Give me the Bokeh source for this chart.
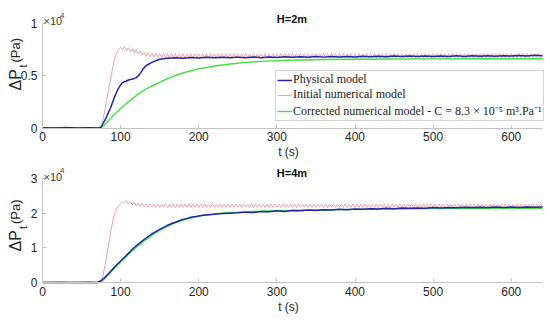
import math
from bokeh.plotting import figure
from bokeh.models import Range1d, Label, Legend, LegendItem, FixedTicker, CustomJSTickFormatter
from bokeh.layouts import column
from bokeh.embed import file_html
from bokeh.resources import INLINE

# ---------------- data (pressure values in units of 1e4 Pa) ----------------
x_ticks = [0, 100, 200, 300, 400, 500, 600]
y_ticks_top = [0, 0.5, 1]
y_ticks_bot = [0, 1, 2, 3]
t_max = 640
y_max_top = 1
y_max_bot = 3

titles = ["H=2m", "H=4m"]
legend_labels = ["Physical model", "Initial numerical model",
                 "Corrected numerical model - C = 8.3 \u00d7 10\u207b\u2075 m\u00b3.Pa\u207b\u00b9"]

# ---- H = 2 m ----
t_top_blue = [0, 15, 30, 45, 60, 72, 75, 78, 81, 84, 87, 90, 93, 96, 99, 102, 105, 108, 111, 114,
              117, 120, 123, 126, 129, 132, 135, 140, 145, 150, 155, 160, 170, 180, 190, 200, 210,
              220, 230, 240, 250, 260, 270, 280, 290, 300, 310, 320, 330, 340, 350, 360, 370, 380,
              390, 400, 410, 420, 430, 440, 450, 460, 470, 480, 490, 500, 510, 520, 530, 540, 550,
              560, 570, 580, 590, 600, 610, 620, 630, 640]
dp_top_blue = [0.003, 0.0, 0.004, 0.0, 0.003, 0.0, 0.01, 0.05, 0.09, 0.14, 0.19, 0.25, 0.31, 0.36,
               0.40, 0.43, 0.44, 0.45, 0.46, 0.465, 0.47, 0.48, 0.50, 0.53, 0.565, 0.59, 0.605, 0.625,
               0.64, 0.655, 0.66, 0.665, 0.67, 0.665, 0.672, 0.667, 0.673, 0.668, 0.674, 0.668, 0.675,
               0.67, 0.676, 0.67, 0.677, 0.672, 0.678, 0.673, 0.679, 0.674, 0.68, 0.675, 0.681, 0.676,
               0.682, 0.677, 0.683, 0.678, 0.684, 0.679, 0.685, 0.68, 0.685, 0.68, 0.686, 0.681, 0.686,
               0.682, 0.687, 0.682, 0.688, 0.683, 0.688, 0.684, 0.689, 0.685, 0.69, 0.685, 0.692, 0.688]

t_top_green = [0, 30, 60, 75, 80, 85, 90, 95, 100, 110, 120, 130, 140, 150, 160, 170, 180, 190, 200,
               220, 240, 260, 280, 300, 330, 360, 400, 450, 500, 550, 600, 640]
dp_top_green = [0.0, 0.002, 0.0, 0.0, 0.035, 0.075, 0.115, 0.15, 0.185, 0.25, 0.31, 0.36, 0.40, 0.435,
                0.47, 0.50, 0.525, 0.545, 0.563, 0.59, 0.61, 0.625, 0.635, 0.642, 0.648, 0.652, 0.655,
                0.657, 0.658, 0.659, 0.66, 0.66]

# initial numerical model: sampled every 2.5 s from 75 s (flat at 0 before)
pink_t0 = 75.0
pink_dt = 2.5
dp_top_pink = [
    0.0, 0.08, 0.18, 0.28, 0.38, 0.48, 0.58, 0.67, 0.72, 0.75,
    0.77, 0.745, 0.775, 0.735, 0.765, 0.725, 0.755, 0.715, 0.745, 0.705,
    0.735, 0.695, 0.725, 0.685, 0.72, 0.68, 0.715, 0.675, 0.712, 0.672,
    0.710, 0.669, 0.708, 0.668, 0.709, 0.667, 0.707, 0.669, 0.708, 0.668,
    0.709, 0.670, 0.707, 0.668, 0.708, 0.669, 0.706, 0.667, 0.708, 0.668,
    0.707, 0.669, 0.709, 0.668, 0.707, 0.667, 0.708, 0.669, 0.706, 0.668,
    0.708, 0.670, 0.707, 0.668, 0.709, 0.669, 0.707, 0.667, 0.708, 0.669,
    0.709, 0.668, 0.707, 0.669, 0.708, 0.667, 0.706, 0.668, 0.709, 0.670,
    0.707, 0.669, 0.708, 0.668, 0.707, 0.667, 0.709, 0.669, 0.708, 0.668,
    0.706, 0.669, 0.708, 0.670, 0.709, 0.668, 0.707, 0.667, 0.708, 0.669,
    0.707, 0.668, 0.709, 0.669, 0.707, 0.667, 0.708, 0.668, 0.706, 0.669,
    0.708, 0.670, 0.707, 0.668, 0.709, 0.669, 0.707, 0.668, 0.708, 0.667,
    0.709, 0.669, 0.707, 0.668, 0.708, 0.670, 0.706, 0.668, 0.708, 0.669,
    0.707, 0.667, 0.709, 0.668, 0.707, 0.669, 0.708, 0.668, 0.709, 0.670,
    0.707, 0.668, 0.708, 0.669, 0.706, 0.667, 0.708, 0.668, 0.707, 0.669,
    0.709, 0.668, 0.707, 0.670, 0.708, 0.669, 0.706, 0.667, 0.708, 0.668,
    0.707, 0.669, 0.709, 0.668, 0.707, 0.667, 0.708, 0.669, 0.706, 0.668,
    0.708, 0.670, 0.707, 0.668, 0.709, 0.669, 0.707, 0.667, 0.708, 0.669,
    0.709, 0.668, 0.707, 0.669, 0.708, 0.667, 0.706, 0.668, 0.709, 0.670,
    0.707, 0.669, 0.708, 0.668, 0.707, 0.667, 0.709, 0.669, 0.708, 0.668,
    0.707, 0.669, 0.708, 0.670, 0.709, 0.668, 0.707, 0.669, 0.708, 0.668,
    0.709, 0.669, 0.707, 0.668, 0.708, 0.670, 0.707, 0.668, 0.709, 0.669,
    0.708, 0.668, 0.707, 0.669, 0.708, 0.667, 0.708,
]

# ---- H = 4 m ----
t_bot_blue = [0, 20, 40, 60, 70, 75, 80, 85, 90, 95, 100, 105, 110, 115, 120, 125, 130, 135, 140,
              145, 150, 155, 160, 165, 170, 175, 180, 185, 190, 195, 200, 205, 210, 220, 230, 240,
              250, 260, 270, 280, 290, 300, 310, 320, 330, 340, 350, 360, 370, 380, 390, 400, 410,
              420, 430, 440, 450, 460, 470, 480, 490, 500, 510, 520, 530, 540, 550, 560, 570, 580,
              590, 600, 610, 620, 630, 640]
dp_bot_blue = [0.0, 0.01, 0.0, 0.01, 0.0, 0.05, 0.15, 0.27, 0.39, 0.51, 0.62, 0.73, 0.84, 0.96, 1.06,
               1.15, 1.24, 1.32, 1.40, 1.47, 1.53, 1.59, 1.65, 1.70, 1.74, 1.78, 1.82, 1.85, 1.88,
               1.90, 1.92, 1.94, 1.95, 1.97, 1.99, 2.00, 2.01, 2.03, 2.02, 2.05, 2.04, 2.07, 2.05,
               2.08, 2.07, 2.09, 2.08, 2.10, 2.09, 2.11, 2.10, 2.12, 2.11, 2.13, 2.12, 2.14, 2.13,
               2.15, 2.14, 2.15, 2.14, 2.16, 2.15, 2.165, 2.155, 2.17, 2.16, 2.17, 2.16, 2.175, 2.165,
               2.175, 2.165, 2.18, 2.17, 2.175]

t_bot_green = [0, 30, 60, 72, 75, 80, 85, 90, 95, 100, 105, 110, 115, 120, 130, 140, 150, 160, 170,
               180, 190, 200, 210, 220, 230, 240, 250, 270, 300, 350, 400, 450, 500, 550, 600, 640]
dp_bot_green = [0.0, 0.005, 0.0, 0.0, 0.03, 0.12, 0.24, 0.36, 0.48, 0.59, 0.70, 0.81, 0.92, 1.02,
                1.20, 1.36, 1.50, 1.62, 1.72, 1.80, 1.86, 1.91, 1.95, 1.98, 2.00, 2.02, 2.03, 2.05,
                2.07, 2.09, 2.11, 2.12, 2.13, 2.13, 2.14, 2.14]

dp_bot_pink = [
    0.00, 0.20, 0.50, 0.82, 1.15, 1.48, 1.78, 2.00, 2.12, 2.21,
    2.28, 2.33, 2.30, 2.36, 2.27, 2.33, 2.24, 2.31, 2.21, 2.29,
    2.19, 2.28, 2.18, 2.27, 2.17, 2.27, 2.17, 2.265, 2.165, 2.265,
    2.165, 2.26, 2.17, 2.265, 2.165, 2.26, 2.17, 2.265, 2.16, 2.26,
    2.165, 2.265, 2.17, 2.26, 2.165, 2.27, 2.165, 2.26, 2.17, 2.265,
    2.165, 2.26, 2.16, 2.265, 2.17, 2.26, 2.165, 2.265, 2.17, 2.26,
    2.165, 2.27, 2.165, 2.26, 2.17, 2.265, 2.165, 2.26, 2.16, 2.265,
    2.17, 2.26, 2.165, 2.265, 2.17, 2.26, 2.165, 2.27, 2.165, 2.26,
    2.17, 2.265, 2.165, 2.26, 2.16, 2.265, 2.17, 2.26, 2.165, 2.265,
    2.17, 2.26, 2.165, 2.27, 2.165, 2.26, 2.17, 2.265, 2.165, 2.26,
    2.16, 2.265, 2.17, 2.26, 2.165, 2.265, 2.17, 2.26, 2.165, 2.27,
    2.165, 2.26, 2.17, 2.265, 2.165, 2.26, 2.16, 2.265, 2.17, 2.26,
    2.165, 2.265, 2.17, 2.26, 2.165, 2.27, 2.165, 2.26, 2.17, 2.265,
    2.165, 2.26, 2.16, 2.265, 2.17, 2.26, 2.165, 2.265, 2.17, 2.26,
    2.165, 2.27, 2.165, 2.26, 2.17, 2.265, 2.165, 2.26, 2.16, 2.265,
    2.17, 2.26, 2.165, 2.265, 2.17, 2.26, 2.165, 2.27, 2.165, 2.26,
    2.17, 2.265, 2.165, 2.26, 2.16, 2.265, 2.17, 2.26, 2.165, 2.265,
    2.17, 2.26, 2.165, 2.27, 2.165, 2.26, 2.17, 2.265, 2.165, 2.26,
    2.16, 2.265, 2.17, 2.26, 2.165, 2.265, 2.17, 2.26, 2.165, 2.27,
    2.165, 2.26, 2.17, 2.265, 2.165, 2.26, 2.16, 2.265, 2.17, 2.26,
    2.165, 2.265, 2.17, 2.26, 2.165, 2.27, 2.165, 2.26, 2.17, 2.265,
    2.165, 2.26, 2.16, 2.265, 2.17, 2.26, 2.165, 2.265, 2.17, 2.26,
    2.165, 2.27, 2.165, 2.26, 2.17, 2.265, 2.165,
]

# ---------------- styling / layout (pixels) ----------------
BLUE = "#2323a8"
PINK = "#eea3ac"
GREEN = "#3ee23e"
AXIS = "#c4c4c4"
TXT = "#262626"
SANS = "Liberation Sans"
SERIF = "Liberation Serif"

W = 550
H_TOP, H_BOT = 160, 162
FX0, FX1 = 42.0, 542.0            # frame x span (px) of the data axes
TOP_Y0, TOP_Y1 = 127.5, 22.5      # px of y=0 and y=ymax in the top canvas
BOT_Y0, BOT_Y1 = 122.0, 18.0      # px of y=0 and y=ymax in the bottom canvas


def px2x(px):
    return (px - FX0) * t_max / (FX1 - FX0)


def make_py(y0px, y1px, ymax):
    def f(py):
        return (y0px - py) * ymax / (y0px - y1px)
    return f


def pink_times(vals):
    return [0.0] + [pink_t0 + pink_dt * i for i in range(len(vals))]


def make_fig(height, ymax, yticks, pyf):
    p = figure(width=W, height=height,
               x_range=Range1d(px2x(0), px2x(W)), y_range=Range1d(pyf(height), pyf(0)),
               output_backend="svg", toolbar_location=None, min_border=0)
    p.grid.visible = False
    p.outline_line_color = None
    p.background_fill_color = "white"
    p.border_fill_color = "white"
    p.xaxis.ticker = FixedTicker(ticks=x_ticks)
    p.yaxis.ticker = FixedTicker(ticks=yticks)
    p.yaxis.formatter = CustomJSTickFormatter(code="return String(Math.round(tick*100)/100);")
    p.xaxis.fixed_location = 0
    p.yaxis.fixed_location = 0
    p.xaxis.bounds = (0, t_max)
    p.yaxis.bounds = (0, ymax)
    for ax in (p.xaxis[0], p.yaxis[0]):
        ax.axis_line_color = AXIS
        ax.major_tick_line_color = AXIS
        ax.major_tick_in = 4
        ax.major_tick_out = 0
        ax.minor_tick_line_color = None
        ax.major_label_text_font = SANS
        ax.major_label_text_font_size = "12px"
        ax.major_label_text_color = TXT
    p.xaxis.major_label_standoff = 4
    p.yaxis.major_label_standoff = 5
    return p


def lab(p, text, x, y, size, **kw):
    kw.setdefault("text_font", SANS)
    kw.setdefault("text_color", TXT)
    p.add_layout(Label(x=x, y=y, text=text, text_font_size=size, **kw))


def decorate(p, title, pyf, title_base, exp_base, tlab_mid, dp_start, t_mid, pa_start):
    lab(p, title, px2x(291.5), pyf(title_base), "11px", text_font_style="bold", text_align="center",
        text_baseline="alphabetic", text_color="#111111")
    lab(p, "\u00d710", px2x(43), pyf(exp_base), "11px", text_align="left", text_baseline="alphabetic",
        text_color="#404040")
    lab(p, "4", px2x(59.5), pyf(exp_base - 6), "8px", text_align="left", text_baseline="alphabetic",
        text_color="#404040")
    lab(p, "t (s)", px2x(288), pyf(tlab_mid), "12px", text_align="center", text_baseline="middle")
    lab(p, "\u0394P", px2x(15), pyf(dp_start), "16px", angle=math.pi / 2, text_align="left",
        text_baseline="middle")
    lab(p, "t", px2x(23), pyf(t_mid), "10px", angle=math.pi / 2, text_align="center",
        text_baseline="middle")
    lab(p, "(Pa)", px2x(15), pyf(pa_start), "13px", angle=math.pi / 2, text_align="left",
        text_baseline="middle")


# ---------------- top figure ----------------
py_top = make_py(TOP_Y0, TOP_Y1, y_max_top)
p1 = make_fig(H_TOP, y_max_top, y_ticks_top, py_top)
r_pink1 = p1.line(pink_times(dp_top_pink), [0.0] + dp_top_pink, line_color=PINK, line_width=1)
r_green1 = p1.line(t_top_green, dp_top_green, line_color=GREEN, line_width=1.4)
r_blue1 = p1.line(t_top_blue, dp_top_blue, line_color=BLUE, line_width=1.5)
decorate(p1, titles[0], py_top, 18.5, 20.5, 151.5, 90, 65.5, 62)

legend = Legend(items=[LegendItem(label=legend_labels[0], renderers=[r_blue1]),
                       LegendItem(label=legend_labels[1], renderers=[r_pink1]),
                       LegendItem(label=legend_labels[2], renderers=[r_green1])],
                location=(275, H_TOP - 121))
legend.label_text_font = SERIF
legend.label_text_font_size = "12px"
legend.label_text_line_height = 1.0
legend.label_text_color = "#222222"
legend.label_height = 12
legend.glyph_height = 12
legend.glyph_width = 15
legend.label_standoff = 1
legend.spacing = 0
legend.padding = 1
legend.margin = 0
legend.border_line_color = "#a8a8a8"
legend.background_fill_color = "white"
legend.background_fill_alpha = 1
p1.add_layout(legend)

# ---------------- bottom figure ----------------
py_bot = make_py(BOT_Y0, BOT_Y1, y_max_bot)
p2 = make_fig(H_BOT, y_max_bot, y_ticks_bot, py_bot)
p2.line(pink_times(dp_bot_pink), [0.0] + dp_bot_pink, line_color=PINK, line_width=1)
p2.line(t_bot_green, dp_bot_green, line_color=GREEN, line_width=1.4)
p2.line(t_bot_blue, dp_bot_blue, line_color=BLUE, line_width=1.5)
decorate(p2, titles[1], py_bot, 12.7, 16, 146, 91, 67, 63.5)

layout = column(p1, p2, spacing=0)
open("out.html", "w").write(file_html(layout, INLINE))
